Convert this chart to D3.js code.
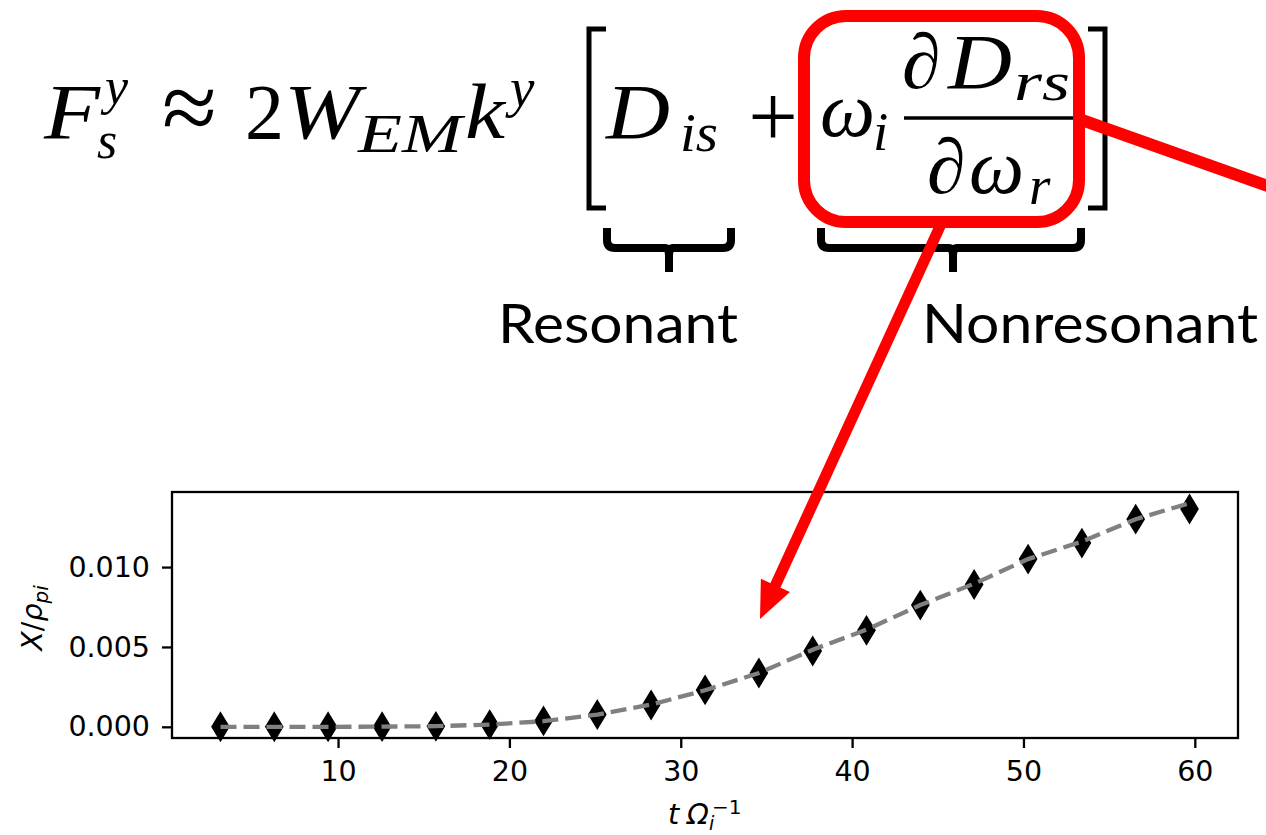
<!DOCTYPE html>
<html>
<head>
<meta charset="utf-8">
<script src="https://cdn.jsdelivr.net/npm/d3@7"></script>
<style>
  body { margin: 0; background: #fff; }
  svg { display: block; }
</style>
</head>
<body>
<div id="chart"></div>
<script>
//Sets dimensions of SVG arena
var width = 1266;
var height = 835;

//Data
var tValues = [3.14, 6.28, 9.42, 12.57, 15.71, 18.85, 21.99, 25.13, 28.27, 31.42,
	34.56, 37.70, 40.84, 43.98, 47.12, 50.27, 53.41, 56.55, 59.69];
var markerValues = [0.00000, 0.00000, 0.00000, 0.00001, 0.00003, 0.00014, 0.00037, 0.00077, 0.00137, 0.00231,
	0.00337, 0.00475, 0.00604, 0.00762, 0.00891, 0.01050, 0.01150, 0.01300, 0.01364];
var lineValues = [0.00000, 0.00000, 0.00000, 0.00001, 0.00004, 0.00014, 0.00035, 0.00077, 0.00139, 0.00229,
	0.00337, 0.00483, 0.00608, 0.00762, 0.00896, 0.01050, 0.01160, 0.01300, 0.01400];
var xTicks = [10, 20, 30, 40, 50, 60];
var yTicks = [0.000, 0.005, 0.010];

//Plot box
var plotLeft = 172, plotRight = 1238, plotTop = 492, plotBottom = 738;

var svg = d3.select("#chart").append("svg")
	.attr("width", width)
	.attr("height", height);

var x = d3.scaleLinear().domain([0.31, 62.52]).range([plotLeft, plotRight]);
var y = d3.scaleLinear().domain([-0.0007, 0.0147]).range([plotBottom, plotTop]);

var tickFont = "DejaVu Sans";
var tickSize = 28.5;

//Axes
var xAxis = svg.append("g")
	.attr("transform", "translate(0," + plotBottom + ")")
	.call(d3.axisBottom(x).tickValues(xTicks).tickSize(10).tickPadding(13).tickFormat(d3.format("d")));
var yAxis = svg.append("g")
	.attr("transform", "translate(" + plotLeft + ",0)")
	.call(d3.axisLeft(y).tickValues(yTicks).tickSize(10).tickPadding(12).tickFormat(d3.format(".3f")));

[xAxis, yAxis].forEach(function(a)
{
	a.select(".domain").remove();
	a.selectAll(".tick line").attr("stroke", "#000").attr("stroke-width", 2.3);
	a.selectAll(".tick text")
		.attr("fill", "#000")
		.style("font-family", tickFont)
		.style("font-size", tickSize + "px");
});

//Frame
svg.append("rect")
	.attr("x", plotLeft)
	.attr("y", plotTop)
	.attr("width", plotRight - plotLeft)
	.attr("height", plotBottom - plotTop)
	.attr("fill", "none")
	.attr("stroke", "#000")
	.attr("stroke-width", 2.3);

//Thin diamond markers
var dw = 8.5, dh = 14;
svg.append("g").selectAll("path")
	.data(tValues)
	.enter()
	.append("path")
	.attr("d", "M0," + (-dh) + "L" + dw + ",0L0," + dh + "L" + (-dw) + ",0Z")
	.attr("fill", "#000")
	.attr("stroke", "#000")
	.attr("stroke-width", 1.5)
	.attr("transform", function(d, i)
	{
		return "translate(" + x(d) + "," + y(markerValues[i]) + ")";
	});

//Dashed gray line on top of markers
var line = d3.line()
	.x(function(d) { return x(d); })
	.y(function(d, i) { return y(lineValues[i]); });
svg.append("path")
	.datum(tValues)
	.attr("d", line)
	.attr("fill", "none")
	.attr("stroke", "#808080")
	.attr("stroke-width", 4.3)
	.attr("stroke-dasharray", "16,7");

//Axis labels
var ylab = svg.append("text")
	.attr("transform", "translate(42,618) rotate(-90)")
	.attr("text-anchor", "middle")
	.style("font-family", tickFont)
	.style("font-size", tickSize + "px");
ylab.append("tspan").style("font-style", "italic").text("X");
ylab.append("tspan").text("/");
ylab.append("tspan").style("font-style", "italic").text("ρ");
ylab.append("tspan").style("font-style", "italic").style("font-size", "20px").attr("dy", 6).text("pi");

svg.append("text")
	.attr("x", 668).attr("y", 824)
	.style("font-family", tickFont).style("font-size", tickSize + "px").style("font-style", "italic")
	.text("t");
svg.append("text")
	.attr("x", 687).attr("y", 824)
	.style("font-family", tickFont).style("font-size", tickSize + "px").style("font-style", "italic")
	.text("Ω");
svg.append("text")
	.attr("x", 709).attr("y", 830)
	.style("font-family", tickFont).style("font-size", "19px").style("font-style", "italic")
	.text("i");
svg.append("text")
	.attr("x", 712).attr("y", 814)
	.style("font-family", tickFont).style("font-size", "20px")
	.text("−1");

//Equation
var mathFont = "Liberation Serif";
function put(str, px, py, size, italic, len)
{
	var t = svg.append("text")
		.attr("x", px)
		.attr("y", py)
		.style("font-family", mathFont)
		.style("font-size", size + "px")
		.style("font-style", italic ? "italic" : "normal")
		.text(str);
	if (len) t.attr("textLength", len).attr("lengthAdjust", "spacingAndGlyphs");
	return t;
}

put("F", 44, 138, 78, true, 56);
put("y", 105, 104, 52, true);
put("s", 97, 158, 52, true);
put("≈", 162, 141, 100, false);
put("2", 245, 138, 78, false);
put("W", 284, 138, 78, true, 76);
put("EM", 358, 152, 55, true, 104);
put("k", 465, 138, 78, true, 40);
put("y", 510, 106, 55, true);
put("D", 606, 138, 78, true, 64);
put("is", 680, 151, 55, true, 38);
put("+", 773, 146, 88, false).attr("text-anchor", "middle");
put("ω", 820, 136, 78, true);
put("i", 873, 150, 55, true);
put("∂", 902, 88, 78, true);
put("D", 948, 88, 78, true, 64);
put("rs", 1014, 100, 55, true, 56);
put("∂", 927, 193, 78, true);
put("ω", 969, 193, 78, true);
put("r", 1029, 204, 55, true);

//Fraction bar
svg.append("line")
	.attr("x1", 904).attr("x2", 1075)
	.attr("y1", 118).attr("y2", 118)
	.attr("stroke", "#000").attr("stroke-width", 3.3);

//Square brackets
svg.append("path")
	.attr("d", "M606,29H589V208H606")
	.attr("fill", "none").attr("stroke", "#000").attr("stroke-width", 5);
svg.append("path")
	.attr("d", "M1088,29H1105V208H1088")
	.attr("fill", "none").attr("stroke", "#000").attr("stroke-width", 5);

//Underbraces
function brace(x0, x1, xm)
{
	var p = "M" + x0 + ",228V240Q" + x0 + ",248 " + (x0 + 8) + ",248H" + (xm - 4)
		+ "Q" + xm + ",248 " + xm + ",256V272"
		+ "M" + xm + ",256Q" + xm + ",248 " + (xm + 4) + ",248H" + (x1 - 8)
		+ "Q" + x1 + ",248 " + x1 + ",240V228";
	svg.append("path")
		.attr("d", p)
		.attr("fill", "none")
		.attr("stroke", "#000")
		.attr("stroke-width", 8);
}
brace(607, 731, 669);
brace(821, 1081, 953);

//Brace captions
svg.append("text")
	.attr("x", 498).attr("y", 343)
	.attr("textLength", 240).attr("lengthAdjust", "spacingAndGlyphs")
	.style("font-family", "Lato").style("font-size", "55px")
	.text("Resonant");
svg.append("text")
	.attr("x", 922).attr("y", 343)
	.attr("textLength", 336).attr("lengthAdjust", "spacingAndGlyphs")
	.style("font-family", "Lato").style("font-size", "55px")
	.text("Nonresonant");

//Red highlight box, pointer line and arrow
var red = "#ff0000";
svg.append("rect")
	.attr("x", 804).attr("y", 16)
	.attr("width", 275).attr("height", 206)
	.attr("rx", 42).attr("ry", 42)
	.attr("fill", "none")
	.attr("stroke", red)
	.attr("stroke-width", 12);

svg.append("line")
	.attr("x1", 1079).attr("y1", 119)
	.attr("x2", 1285).attr("y2", 192)
	.attr("stroke", red)
	.attr("stroke-width", 12);

var a0 = [942, 222], tip = [760, 619];
var dx = tip[0] - a0[0], dy = tip[1] - a0[1];
var len = Math.sqrt(dx * dx + dy * dy);
var ux = dx / len, uy = dy / len;
var headL = 37, headW = 16;
var bx = tip[0] - ux * headL, by = tip[1] - uy * headL;
svg.append("line")
	.attr("x1", a0[0]).attr("y1", a0[1])
	.attr("x2", bx + ux * 4).attr("y2", by + uy * 4)
	.attr("stroke", red)
	.attr("stroke-width", 11);
svg.append("path")
	.attr("d", "M" + tip[0] + "," + tip[1]
		+ "L" + (bx - uy * headW) + "," + (by + ux * headW)
		+ "L" + (bx + uy * headW) + "," + (by - ux * headW) + "Z")
	.attr("fill", red);
</script>
</body>
</html>
